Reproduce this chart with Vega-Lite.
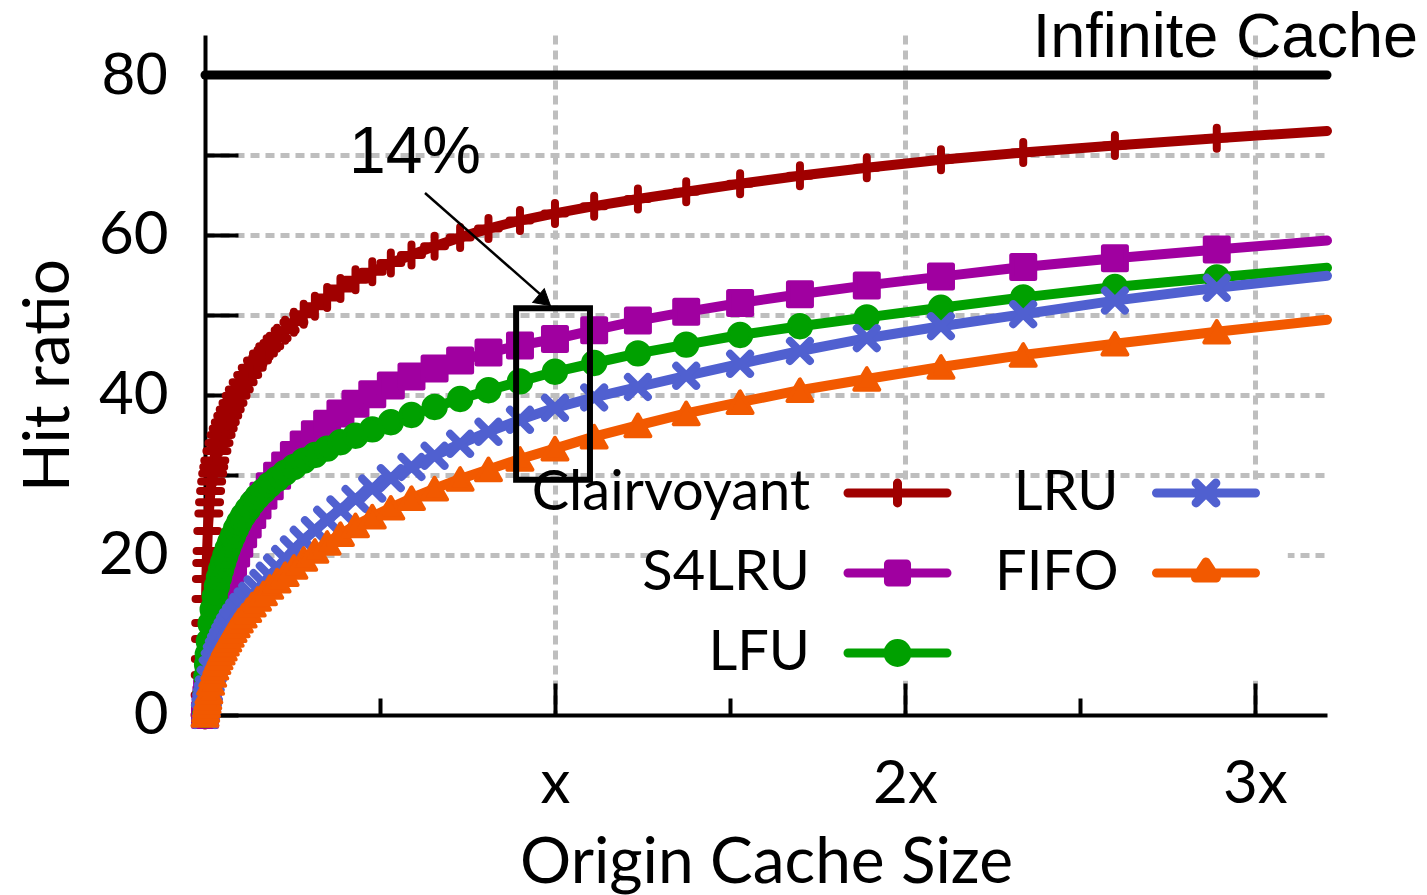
{
  "$schema": "https://vega.github.io/schema/vega-lite/v6.json",
  "width": 1122,
  "height": 680,
  "autosize": "none",
  "padding": {"left": 205, "top": 35, "right": 100, "bottom": 180},
  "background": "white",
  "config": {"view": {"stroke": null}},
  "datasets": {
    "curves": [
      {"policy": "Clairvoyant", "size": 0, "hit": 0},
      {"policy": "Clairvoyant", "size": 0.0003, "hit": 2.5},
      {"policy": "Clairvoyant", "size": 0.0007, "hit": 5.0},
      {"policy": "Clairvoyant", "size": 0.001, "hit": 7.0},
      {"policy": "Clairvoyant", "size": 0.0015, "hit": 9.5},
      {"policy": "Clairvoyant", "size": 0.002, "hit": 11.5},
      {"policy": "Clairvoyant", "size": 0.003, "hit": 14.5},
      {"policy": "Clairvoyant", "size": 0.004, "hit": 17.0},
      {"policy": "Clairvoyant", "size": 0.005, "hit": 19.0},
      {"policy": "Clairvoyant", "size": 0.006, "hit": 20.5},
      {"policy": "Clairvoyant", "size": 0.008, "hit": 23.0},
      {"policy": "Clairvoyant", "size": 0.011, "hit": 25.2},
      {"policy": "Clairvoyant", "size": 0.013, "hit": 26.6},
      {"policy": "Clairvoyant", "size": 0.016, "hit": 28.0},
      {"policy": "Clairvoyant", "size": 0.019, "hit": 29.2},
      {"policy": "Clairvoyant", "size": 0.022, "hit": 30.2},
      {"policy": "Clairvoyant", "size": 0.025, "hit": 31.0},
      {"policy": "Clairvoyant", "size": 0.028, "hit": 31.8},
      {"policy": "Clairvoyant", "size": 0.034, "hit": 33.0},
      {"policy": "Clairvoyant", "size": 0.04, "hit": 34.0},
      {"policy": "Clairvoyant", "size": 0.046, "hit": 35.0},
      {"policy": "Clairvoyant", "size": 0.052, "hit": 35.8},
      {"policy": "Clairvoyant", "size": 0.058, "hit": 36.6},
      {"policy": "Clairvoyant", "size": 0.065, "hit": 37.4},
      {"policy": "Clairvoyant", "size": 0.072, "hit": 38.2},
      {"policy": "Clairvoyant", "size": 0.08, "hit": 39.0},
      {"policy": "Clairvoyant", "size": 0.089, "hit": 39.9},
      {"policy": "Clairvoyant", "size": 0.098, "hit": 40.7},
      {"policy": "Clairvoyant", "size": 0.109, "hit": 41.6},
      {"policy": "Clairvoyant", "size": 0.122, "hit": 42.5},
      {"policy": "Clairvoyant", "size": 0.135, "hit": 43.4},
      {"policy": "Clairvoyant", "size": 0.15, "hit": 44.3},
      {"policy": "Clairvoyant", "size": 0.167, "hit": 45.2},
      {"policy": "Clairvoyant", "size": 0.185, "hit": 46.1},
      {"policy": "Clairvoyant", "size": 0.206, "hit": 47.1},
      {"policy": "Clairvoyant", "size": 0.229, "hit": 48.1},
      {"policy": "Clairvoyant", "size": 0.254, "hit": 49.1},
      {"policy": "Clairvoyant", "size": 0.282, "hit": 50.1},
      {"policy": "Clairvoyant", "size": 0.314, "hit": 51.1},
      {"policy": "Clairvoyant", "size": 0.349, "hit": 52.2},
      {"policy": "Clairvoyant", "size": 0.387, "hit": 53.3},
      {"policy": "Clairvoyant", "size": 0.43, "hit": 54.4},
      {"policy": "Clairvoyant", "size": 0.478, "hit": 55.4},
      {"policy": "Clairvoyant", "size": 0.531, "hit": 56.5},
      {"policy": "Clairvoyant", "size": 0.59, "hit": 57.5},
      {"policy": "Clairvoyant", "size": 0.656, "hit": 58.6},
      {"policy": "Clairvoyant", "size": 0.729, "hit": 59.7},
      {"policy": "Clairvoyant", "size": 0.81, "hit": 60.8},
      {"policy": "Clairvoyant", "size": 0.9, "hit": 61.8},
      {"policy": "Clairvoyant", "size": 1.0, "hit": 62.7},
      {"policy": "Clairvoyant", "size": 1.112, "hit": 63.6},
      {"policy": "Clairvoyant", "size": 1.237, "hit": 64.5},
      {"policy": "Clairvoyant", "size": 1.375, "hit": 65.4},
      {"policy": "Clairvoyant", "size": 1.529, "hit": 66.4},
      {"policy": "Clairvoyant", "size": 1.7, "hit": 67.4},
      {"policy": "Clairvoyant", "size": 1.891, "hit": 68.4},
      {"policy": "Clairvoyant", "size": 2.103, "hit": 69.4},
      {"policy": "Clairvoyant", "size": 2.338, "hit": 70.3},
      {"policy": "Clairvoyant", "size": 2.6, "hit": 71.2},
      {"policy": "Clairvoyant", "size": 2.891, "hit": 72.1},
      {"policy": "Clairvoyant", "size": 3.206, "hit": 73.0},

      {"policy": "S4LRU", "size": 0, "hit": 0},
      {"policy": "S4LRU", "size": 0.002, "hit": 1.0},
      {"policy": "S4LRU", "size": 0.004, "hit": 2.0},
      {"policy": "S4LRU", "size": 0.006, "hit": 2.8},
      {"policy": "S4LRU", "size": 0.008, "hit": 3.6},
      {"policy": "S4LRU", "size": 0.011, "hit": 4.7},
      {"policy": "S4LRU", "size": 0.016, "hit": 6.4},
      {"policy": "S4LRU", "size": 0.022, "hit": 8.1},
      {"policy": "S4LRU", "size": 0.028, "hit": 9.6},
      {"policy": "S4LRU", "size": 0.034, "hit": 11.0},
      {"policy": "S4LRU", "size": 0.04, "hit": 12.2},
      {"policy": "S4LRU", "size": 0.046, "hit": 13.4},
      {"policy": "S4LRU", "size": 0.052, "hit": 14.5},
      {"policy": "S4LRU", "size": 0.058, "hit": 15.6},
      {"policy": "S4LRU", "size": 0.065, "hit": 16.7},
      {"policy": "S4LRU", "size": 0.072, "hit": 17.8},
      {"policy": "S4LRU", "size": 0.08, "hit": 19.0},
      {"policy": "S4LRU", "size": 0.089, "hit": 20.2},
      {"policy": "S4LRU", "size": 0.098, "hit": 21.4},
      {"policy": "S4LRU", "size": 0.109, "hit": 22.6},
      {"policy": "S4LRU", "size": 0.122, "hit": 23.8},
      {"policy": "S4LRU", "size": 0.135, "hit": 25.0},
      {"policy": "S4LRU", "size": 0.15, "hit": 26.2},
      {"policy": "S4LRU", "size": 0.167, "hit": 27.4},
      {"policy": "S4LRU", "size": 0.185, "hit": 28.6},
      {"policy": "S4LRU", "size": 0.206, "hit": 29.9},
      {"policy": "S4LRU", "size": 0.229, "hit": 31.2},
      {"policy": "S4LRU", "size": 0.254, "hit": 32.5},
      {"policy": "S4LRU", "size": 0.282, "hit": 33.8},
      {"policy": "S4LRU", "size": 0.314, "hit": 35.1},
      {"policy": "S4LRU", "size": 0.349, "hit": 36.4},
      {"policy": "S4LRU", "size": 0.387, "hit": 37.7},
      {"policy": "S4LRU", "size": 0.43, "hit": 38.9},
      {"policy": "S4LRU", "size": 0.478, "hit": 40.1},
      {"policy": "S4LRU", "size": 0.531, "hit": 41.2},
      {"policy": "S4LRU", "size": 0.59, "hit": 42.3},
      {"policy": "S4LRU", "size": 0.656, "hit": 43.3},
      {"policy": "S4LRU", "size": 0.729, "hit": 44.3},
      {"policy": "S4LRU", "size": 0.81, "hit": 45.3},
      {"policy": "S4LRU", "size": 0.9, "hit": 46.2},
      {"policy": "S4LRU", "size": 1.0, "hit": 47.0},
      {"policy": "S4LRU", "size": 1.112, "hit": 48.1},
      {"policy": "S4LRU", "size": 1.237, "hit": 49.3},
      {"policy": "S4LRU", "size": 1.375, "hit": 50.4},
      {"policy": "S4LRU", "size": 1.529, "hit": 51.5},
      {"policy": "S4LRU", "size": 1.7, "hit": 52.6},
      {"policy": "S4LRU", "size": 1.891, "hit": 53.7},
      {"policy": "S4LRU", "size": 2.103, "hit": 54.8},
      {"policy": "S4LRU", "size": 2.338, "hit": 56.0},
      {"policy": "S4LRU", "size": 2.6, "hit": 57.1},
      {"policy": "S4LRU", "size": 2.891, "hit": 58.2},
      {"policy": "S4LRU", "size": 3.206, "hit": 59.3},

      {"policy": "LFU", "size": 0, "hit": 0},
      {"policy": "LFU", "size": 0.001, "hit": 1.5},
      {"policy": "LFU", "size": 0.002, "hit": 2.7},
      {"policy": "LFU", "size": 0.004, "hit": 4.8},
      {"policy": "LFU", "size": 0.006, "hit": 6.3},
      {"policy": "LFU", "size": 0.008, "hit": 7.6},
      {"policy": "LFU", "size": 0.011, "hit": 9.2},
      {"policy": "LFU", "size": 0.016, "hit": 11.4},
      {"policy": "LFU", "size": 0.022, "hit": 13.2},
      {"policy": "LFU", "size": 0.028, "hit": 14.8},
      {"policy": "LFU", "size": 0.034, "hit": 16.1},
      {"policy": "LFU", "size": 0.04, "hit": 17.2},
      {"policy": "LFU", "size": 0.046, "hit": 18.2},
      {"policy": "LFU", "size": 0.052, "hit": 19.1},
      {"policy": "LFU", "size": 0.058, "hit": 19.9},
      {"policy": "LFU", "size": 0.065, "hit": 20.8},
      {"policy": "LFU", "size": 0.072, "hit": 21.6},
      {"policy": "LFU", "size": 0.08, "hit": 22.4},
      {"policy": "LFU", "size": 0.089, "hit": 23.3},
      {"policy": "LFU", "size": 0.098, "hit": 24.1},
      {"policy": "LFU", "size": 0.109, "hit": 24.9},
      {"policy": "LFU", "size": 0.122, "hit": 25.7},
      {"policy": "LFU", "size": 0.135, "hit": 26.5},
      {"policy": "LFU", "size": 0.15, "hit": 27.3},
      {"policy": "LFU", "size": 0.167, "hit": 28.0},
      {"policy": "LFU", "size": 0.185, "hit": 28.8},
      {"policy": "LFU", "size": 0.206, "hit": 29.5},
      {"policy": "LFU", "size": 0.229, "hit": 30.3},
      {"policy": "LFU", "size": 0.254, "hit": 31.0},
      {"policy": "LFU", "size": 0.282, "hit": 31.8},
      {"policy": "LFU", "size": 0.314, "hit": 32.5},
      {"policy": "LFU", "size": 0.349, "hit": 33.3},
      {"policy": "LFU", "size": 0.387, "hit": 34.1},
      {"policy": "LFU", "size": 0.43, "hit": 34.9},
      {"policy": "LFU", "size": 0.478, "hit": 35.7},
      {"policy": "LFU", "size": 0.531, "hit": 36.6},
      {"policy": "LFU", "size": 0.59, "hit": 37.5},
      {"policy": "LFU", "size": 0.656, "hit": 38.5},
      {"policy": "LFU", "size": 0.729, "hit": 39.5},
      {"policy": "LFU", "size": 0.81, "hit": 40.6},
      {"policy": "LFU", "size": 0.9, "hit": 41.7},
      {"policy": "LFU", "size": 1.0, "hit": 42.9},
      {"policy": "LFU", "size": 1.112, "hit": 44.0},
      {"policy": "LFU", "size": 1.237, "hit": 45.2},
      {"policy": "LFU", "size": 1.375, "hit": 46.3},
      {"policy": "LFU", "size": 1.529, "hit": 47.5},
      {"policy": "LFU", "size": 1.7, "hit": 48.6},
      {"policy": "LFU", "size": 1.891, "hit": 49.7},
      {"policy": "LFU", "size": 2.103, "hit": 50.9},
      {"policy": "LFU", "size": 2.338, "hit": 52.2},
      {"policy": "LFU", "size": 2.6, "hit": 53.5},
      {"policy": "LFU", "size": 2.891, "hit": 54.7},
      {"policy": "LFU", "size": 3.206, "hit": 55.9},

      {"policy": "LRU", "size": 0, "hit": 0},
      {"policy": "LRU", "size": 0.002, "hit": 0.7},
      {"policy": "LRU", "size": 0.004, "hit": 1.3},
      {"policy": "LRU", "size": 0.006, "hit": 1.9},
      {"policy": "LRU", "size": 0.008, "hit": 2.5},
      {"policy": "LRU", "size": 0.011, "hit": 3.2},
      {"policy": "LRU", "size": 0.016, "hit": 4.4},
      {"policy": "LRU", "size": 0.022, "hit": 5.6},
      {"policy": "LRU", "size": 0.028, "hit": 6.5},
      {"policy": "LRU", "size": 0.034, "hit": 7.3},
      {"policy": "LRU", "size": 0.04, "hit": 8.0},
      {"policy": "LRU", "size": 0.046, "hit": 8.6},
      {"policy": "LRU", "size": 0.052, "hit": 9.2},
      {"policy": "LRU", "size": 0.058, "hit": 9.8},
      {"policy": "LRU", "size": 0.065, "hit": 10.4},
      {"policy": "LRU", "size": 0.072, "hit": 11.0},
      {"policy": "LRU", "size": 0.08, "hit": 11.6},
      {"policy": "LRU", "size": 0.089, "hit": 12.2},
      {"policy": "LRU", "size": 0.098, "hit": 12.8},
      {"policy": "LRU", "size": 0.109, "hit": 13.5},
      {"policy": "LRU", "size": 0.122, "hit": 14.2},
      {"policy": "LRU", "size": 0.135, "hit": 14.9},
      {"policy": "LRU", "size": 0.15, "hit": 15.7},
      {"policy": "LRU", "size": 0.167, "hit": 16.5},
      {"policy": "LRU", "size": 0.185, "hit": 17.4},
      {"policy": "LRU", "size": 0.206, "hit": 18.4},
      {"policy": "LRU", "size": 0.229, "hit": 19.5},
      {"policy": "LRU", "size": 0.254, "hit": 20.7},
      {"policy": "LRU", "size": 0.282, "hit": 21.9},
      {"policy": "LRU", "size": 0.314, "hit": 23.1},
      {"policy": "LRU", "size": 0.349, "hit": 24.4},
      {"policy": "LRU", "size": 0.387, "hit": 25.7},
      {"policy": "LRU", "size": 0.43, "hit": 27.0},
      {"policy": "LRU", "size": 0.478, "hit": 28.3},
      {"policy": "LRU", "size": 0.531, "hit": 29.6},
      {"policy": "LRU", "size": 0.59, "hit": 31.0},
      {"policy": "LRU", "size": 0.656, "hit": 32.4},
      {"policy": "LRU", "size": 0.729, "hit": 33.9},
      {"policy": "LRU", "size": 0.81, "hit": 35.4},
      {"policy": "LRU", "size": 0.9, "hit": 36.9},
      {"policy": "LRU", "size": 1.0, "hit": 38.4},
      {"policy": "LRU", "size": 1.112, "hit": 39.7},
      {"policy": "LRU", "size": 1.237, "hit": 41.0},
      {"policy": "LRU", "size": 1.375, "hit": 42.4},
      {"policy": "LRU", "size": 1.529, "hit": 43.9},
      {"policy": "LRU", "size": 1.7, "hit": 45.5},
      {"policy": "LRU", "size": 1.891, "hit": 47.1},
      {"policy": "LRU", "size": 2.103, "hit": 48.6},
      {"policy": "LRU", "size": 2.338, "hit": 50.1},
      {"policy": "LRU", "size": 2.6, "hit": 51.8},
      {"policy": "LRU", "size": 2.891, "hit": 53.4},
      {"policy": "LRU", "size": 3.206, "hit": 54.9},

      {"policy": "FIFO", "size": 0, "hit": 0},
      {"policy": "FIFO", "size": 0.002, "hit": 0.6},
      {"policy": "FIFO", "size": 0.004, "hit": 1.2},
      {"policy": "FIFO", "size": 0.006, "hit": 1.7},
      {"policy": "FIFO", "size": 0.008, "hit": 2.2},
      {"policy": "FIFO", "size": 0.011, "hit": 2.9},
      {"policy": "FIFO", "size": 0.016, "hit": 4.0},
      {"policy": "FIFO", "size": 0.022, "hit": 5.0},
      {"policy": "FIFO", "size": 0.028, "hit": 5.9},
      {"policy": "FIFO", "size": 0.034, "hit": 6.6},
      {"policy": "FIFO", "size": 0.04, "hit": 7.2},
      {"policy": "FIFO", "size": 0.046, "hit": 7.8},
      {"policy": "FIFO", "size": 0.052, "hit": 8.3},
      {"policy": "FIFO", "size": 0.058, "hit": 8.9},
      {"policy": "FIFO", "size": 0.065, "hit": 9.4},
      {"policy": "FIFO", "size": 0.072, "hit": 10.0},
      {"policy": "FIFO", "size": 0.08, "hit": 10.6},
      {"policy": "FIFO", "size": 0.089, "hit": 11.2},
      {"policy": "FIFO", "size": 0.098, "hit": 11.8},
      {"policy": "FIFO", "size": 0.109, "hit": 12.4},
      {"policy": "FIFO", "size": 0.122, "hit": 13.1},
      {"policy": "FIFO", "size": 0.135, "hit": 13.8},
      {"policy": "FIFO", "size": 0.15, "hit": 14.5},
      {"policy": "FIFO", "size": 0.167, "hit": 15.2},
      {"policy": "FIFO", "size": 0.185, "hit": 16.0},
      {"policy": "FIFO", "size": 0.206, "hit": 16.8},
      {"policy": "FIFO", "size": 0.229, "hit": 17.6},
      {"policy": "FIFO", "size": 0.254, "hit": 18.5},
      {"policy": "FIFO", "size": 0.282, "hit": 19.5},
      {"policy": "FIFO", "size": 0.314, "hit": 20.5},
      {"policy": "FIFO", "size": 0.349, "hit": 21.5},
      {"policy": "FIFO", "size": 0.387, "hit": 22.6},
      {"policy": "FIFO", "size": 0.43, "hit": 23.7},
      {"policy": "FIFO", "size": 0.478, "hit": 24.8},
      {"policy": "FIFO", "size": 0.531, "hit": 25.9},
      {"policy": "FIFO", "size": 0.59, "hit": 27.1},
      {"policy": "FIFO", "size": 0.656, "hit": 28.3},
      {"policy": "FIFO", "size": 0.729, "hit": 29.5},
      {"policy": "FIFO", "size": 0.81, "hit": 30.7},
      {"policy": "FIFO", "size": 0.9, "hit": 32.0},
      {"policy": "FIFO", "size": 1.0, "hit": 33.3},
      {"policy": "FIFO", "size": 1.112, "hit": 34.8},
      {"policy": "FIFO", "size": 1.237, "hit": 36.2},
      {"policy": "FIFO", "size": 1.375, "hit": 37.7},
      {"policy": "FIFO", "size": 1.529, "hit": 39.1},
      {"policy": "FIFO", "size": 1.7, "hit": 40.6},
      {"policy": "FIFO", "size": 1.891, "hit": 42.0},
      {"policy": "FIFO", "size": 2.103, "hit": 43.5},
      {"policy": "FIFO", "size": 2.338, "hit": 45.0},
      {"policy": "FIFO", "size": 2.6, "hit": 46.4},
      {"policy": "FIFO", "size": 2.891, "hit": 47.9},
      {"policy": "FIFO", "size": 3.206, "hit": 49.4}
    ]
  },
  "layer": [
    {
      "description": "white backdrop behind the key; also carries the main axes",
      "data": {"values": [{"size": 1.27, "size2": 3.094, "hit": 29, "hit2": 4.3}]},
      "mark": {"type": "rect", "fill": "white"},
      "encoding": {
        "x": {
          "field": "size", "type": "quantitative",
          "scale": {"domain": [0, 3.206], "nice": false, "zero": false},
          "axis": {
            "orient": "bottom", "values": [1, 2, 3],
            "domainColor": "black", "domainWidth": 4,
            "tickColor": "black", "tickWidth": 4, "tickSize": -32,
            "labelExpr": "datum.value === 1 ? 'x' : datum.value + 'x'",
            "labelFont": "Lato", "labelFontSize": 60, "labelColor": "black",
            "labelBaseline": "alphabetic", "labelPadding": 119, "labelFlush": false, "labelOverlap": false,
            "grid": true, "gridColor": "#bebebe", "gridWidth": 5, "gridDash": [9, 6],
            "title": "Origin Cache Size", "titleFont": "Lato", "titleFontSize": 64, "titleFontWeight": "normal",
            "titleColor": "black", "titleBaseline": "alphabetic", "titleY": 167
          }
        },
        "x2": {"field": "size2"},
        "y": {
          "field": "hit", "type": "quantitative",
          "scale": {"domain": [0, 85], "nice": false},
          "axis": {
            "orient": "left", "values": [0, 10, 20, 30, 40, 50, 60, 70, 80],
            "domainColor": "black", "domainWidth": 4,
            "tickColor": "black", "tickWidth": 4, "tickSize": -33,
            "labelExpr": "datum.value % 20 === 0 ? datum.label : ''",
            "labelFont": {"condition": {"test": "datum.value === 80", "value": "Liberation Sans"}, "value": "Lato"},
            "labelFontSize": 60, "labelColor": "black", "labelPadding": 70,
            "labelBaseline": "middle", "labelFlush": false, "labelOverlap": false,
            "grid": true, "gridColor": "#bebebe", "gridWidth": 5, "gridDash": [9, 6],
            "gridOpacity": {"condition": {"test": "datum.value >= 20 && datum.value <= 70", "value": 1}, "value": 0},
            "title": "Hit ratio", "titleFont": "Lato", "titleFontSize": 64, "titleFontWeight": "normal",
            "titleColor": "black", "titleBaseline": "alphabetic", "titleAngle": -90, "titleAlign": "center",
            "titleX": -137, "titleY": 340
          }
        },
        "y2": {"field": "hit2"}
      }
    },
    {
      "data": {"name": "curves"},
      "transform": [{"filter": "datum.policy === 'Clairvoyant'"}],
      "mark": {"type": "line", "strokeWidth": 10, "strokeCap": "round", "strokeJoin": "round"},
      "encoding": {
        "x": {"field": "size", "type": "quantitative", "scale": {"domain": [0, 3.206], "nice": false, "zero": false}, "axis": null},
        "y": {"field": "hit", "type": "quantitative", "scale": {"domain": [0, 85], "nice": false}, "axis": null},
        "color": {
          "field": "policy", "type": "nominal",
          "scale": {
            "domain": ["Clairvoyant", "S4LRU", "LFU", "LRU", "FIFO"],
            "range": ["#a00000", "#a000a0", "#00a000", "#5060d0", "#f25900"]
          },
          "legend": {
            "title": null, "orient": "none", "legendX": 664.5, "legendY": 430,
            "direction": "vertical", "columns": 2, "padding": 0,
            "rowPadding": 24, "columnPadding": -146.5,
            "symbolSize": 484, "symbolStrokeWidth": 9,
            "labelFont": "Lato", "labelFontSize": 56, "labelColor": "black",
            "labelAlign": "right", "labelBaseline": "middle", "labelOffset": -115.5, "labelLimit": 0,
            "encode": {
              "symbols": {
                "update": {
                  "shape": {"signal": "datum.value === 'Clairvoyant' ? 'M-36,0M-4.5,0H4.5M0,-0.9V0.9' : datum.value === 'S4LRU' ? 'M-36,0M-4.5,0H4.5M-0.82,-0.82H0.82V0.82H-0.82Z' : datum.value === 'LFU' ? 'M-36,0M-4.5,0H4.5M-0.86,0A0.86,0.86,0,1,1,0.86,0A0.86,0.86,0,1,1,-0.86,0Z' : datum.value === 'LRU' ? 'M-36,0M-4.5,0H4.5M-0.9,-0.9L0.9,0.9M0.9,-0.9L-0.9,0.9' : 'M-36,0M-4.5,0H4.5M0,-1L0.95,0.45H-0.95Z'"},
                  "fill": {"scale": "color", "field": "value"},
                  "stroke": {"scale": "color", "field": "value"},
                  "strokeCap": {"value": "round"},
                  "strokeJoin": {"value": "round"},
                  "opacity": {"value": 1}
                }
              }
            }
          }
        }
      }
    },
    {
      "data": {"name": "curves"},
      "transform": [{"filter": "datum.policy === 'Clairvoyant' && datum.size < 3.1"}],
      "mark": {"type": "point", "shape": "M0,-1V1M-1,0H1", "size": 441, "filled": false, "stroke": "#a00000", "strokeWidth": 8, "strokeCap": "round", "opacity": 1},
      "encoding": {
        "x": {"field": "size", "type": "quantitative", "scale": {"domain": [0, 3.206], "nice": false, "zero": false}, "axis": null},
        "y": {"field": "hit", "type": "quantitative", "scale": {"domain": [0, 85], "nice": false}, "axis": null}
      }
    },
    {
      "data": {"name": "curves"},
      "transform": [{"filter": "datum.policy === 'S4LRU'"}],
      "mark": {"type": "line", "color": "#a000a0", "strokeWidth": 10, "strokeCap": "round", "strokeJoin": "round"},
      "encoding": {
        "x": {"field": "size", "type": "quantitative", "scale": {"domain": [0, 3.206], "nice": false, "zero": false}, "axis": null},
        "y": {"field": "hit", "type": "quantitative", "scale": {"domain": [0, 85], "nice": false}, "axis": null}
      }
    },
    {
      "data": {"name": "curves"},
      "transform": [{"filter": "datum.policy === 'S4LRU' && datum.size < 3.1"}],
      "mark": {"type": "point", "shape": "square", "size": 529, "filled": true, "fill": "#a000a0", "stroke": "#a000a0", "strokeWidth": 5, "strokeJoin": "round", "opacity": 1},
      "encoding": {
        "x": {"field": "size", "type": "quantitative", "scale": {"domain": [0, 3.206], "nice": false, "zero": false}, "axis": null},
        "y": {"field": "hit", "type": "quantitative", "scale": {"domain": [0, 85], "nice": false}, "axis": null}
      }
    },
    {
      "data": {"name": "curves"},
      "transform": [{"filter": "datum.policy === 'LFU'"}],
      "mark": {"type": "line", "color": "#00a000", "strokeWidth": 10, "strokeCap": "round", "strokeJoin": "round"},
      "encoding": {
        "x": {"field": "size", "type": "quantitative", "scale": {"domain": [0, 3.206], "nice": false, "zero": false}, "axis": null},
        "y": {"field": "hit", "type": "quantitative", "scale": {"domain": [0, 85], "nice": false}, "axis": null}
      }
    },
    {
      "data": {"name": "curves"},
      "transform": [{"filter": "datum.policy === 'LFU' && datum.size < 3.1"}],
      "mark": {"type": "point", "shape": "circle", "size": 500, "filled": true, "fill": "#00a000", "stroke": "#00a000", "strokeWidth": 4, "opacity": 1},
      "encoding": {
        "x": {"field": "size", "type": "quantitative", "scale": {"domain": [0, 3.206], "nice": false, "zero": false}, "axis": null},
        "y": {"field": "hit", "type": "quantitative", "scale": {"domain": [0, 85], "nice": false}, "axis": null}
      }
    },
    {
      "data": {"name": "curves"},
      "transform": [{"filter": "datum.policy === 'LRU'"}],
      "mark": {"type": "line", "color": "#5060d0", "strokeWidth": 10, "strokeCap": "round", "strokeJoin": "round"},
      "encoding": {
        "x": {"field": "size", "type": "quantitative", "scale": {"domain": [0, 3.206], "nice": false, "zero": false}, "axis": null},
        "y": {"field": "hit", "type": "quantitative", "scale": {"domain": [0, 85], "nice": false}, "axis": null}
      }
    },
    {
      "data": {"name": "curves"},
      "transform": [{"filter": "datum.policy === 'LRU' && datum.size < 3.1"}],
      "mark": {"type": "point", "shape": "M-1,-1L1,1M1,-1L-1,1", "size": 400, "filled": false, "stroke": "#5060d0", "strokeWidth": 8, "strokeCap": "round", "opacity": 1},
      "encoding": {
        "x": {"field": "size", "type": "quantitative", "scale": {"domain": [0, 3.206], "nice": false, "zero": false}, "axis": null},
        "y": {"field": "hit", "type": "quantitative", "scale": {"domain": [0, 85], "nice": false}, "axis": null}
      }
    },
    {
      "data": {"name": "curves"},
      "transform": [{"filter": "datum.policy === 'FIFO'"}],
      "mark": {"type": "line", "color": "#f25900", "strokeWidth": 10, "strokeCap": "round", "strokeJoin": "round"},
      "encoding": {
        "x": {"field": "size", "type": "quantitative", "scale": {"domain": [0, 3.206], "nice": false, "zero": false}, "axis": null},
        "y": {"field": "hit", "type": "quantitative", "scale": {"domain": [0, 85], "nice": false}, "axis": null}
      }
    },
    {
      "data": {"name": "curves"},
      "transform": [{"filter": "datum.policy === 'FIFO' && datum.size < 3.1"}],
      "mark": {"type": "point", "shape": "triangle-up", "size": 625, "filled": true, "fill": "#f25900", "stroke": "#f25900", "strokeWidth": 4, "strokeJoin": "round", "opacity": 1},
      "encoding": {
        "x": {"field": "size", "type": "quantitative", "scale": {"domain": [0, 3.206], "nice": false, "zero": false}, "axis": null},
        "y": {"field": "hit", "type": "quantitative", "scale": {"domain": [0, 85], "nice": false}, "axis": null}
      }
    },
    {
      "description": "infinite cache reference line",
      "data": {"values": [{"hit": 80}]},
      "mark": {"type": "rule", "color": "black", "strokeWidth": 9, "strokeCap": "round"},
      "encoding": {
        "y": {"field": "hit", "type": "quantitative", "scale": {"domain": [0, 85], "nice": false}, "axis": null}
      }
    },
    {
      "data": {"values": [{"size": 3.466, "hit": 82.25, "text": "Infinite Cache"}]},
      "mark": {"type": "text", "align": "right", "baseline": "alphabetic", "font": "Liberation Sans", "fontSize": 63, "color": "black"},
      "encoding": {
        "x": {"field": "size", "type": "quantitative", "scale": {"domain": [0, 3.206], "nice": false, "zero": false}, "axis": null},
        "y": {"field": "hit", "type": "quantitative", "scale": {"domain": [0, 85], "nice": false}, "axis": null},
        "text": {"field": "text"}
      }
    },
    {
      "description": "highlight box around the x point; carries the minor x ticks",
      "data": {"values": [{"size": 0.889, "size2": 1.1, "hit": 50.84, "hit2": 29.41}]},
      "mark": {"type": "rect", "fill": null, "fillOpacity": 0, "stroke": "black", "strokeWidth": 6},
      "encoding": {
        "x": {
          "field": "size", "type": "quantitative",
          "scale": {"domain": [0, 3.206], "nice": false, "zero": false},
          "axis": {
            "orient": "bottom", "values": [0.5, 1.5, 2.5],
            "domain": false, "labels": false, "grid": false,
            "tickColor": "black", "tickWidth": 4, "tickSize": -17, "title": null
          }
        },
        "x2": {"field": "size2"},
        "y": {"field": "hit", "type": "quantitative", "scale": {"domain": [0, 85], "nice": false}, "axis": null},
        "y2": {"field": "hit2"}
      }
    },
    {
      "data": {"values": [{"size": 0.6286, "hit": 65.25, "size2": 0.968, "hit2": 52.2}]},
      "mark": {"type": "rule", "color": "black", "strokeWidth": 2.5},
      "encoding": {
        "x": {"field": "size", "type": "quantitative", "scale": {"domain": [0, 3.206], "nice": false, "zero": false}, "axis": null},
        "y": {"field": "hit", "type": "quantitative", "scale": {"domain": [0, 85], "nice": false}, "axis": null},
        "x2": {"field": "size2"},
        "y2": {"field": "hit2"}
      }
    },
    {
      "data": {"values": [{"size": 0.97, "hit": 51.8}]},
      "mark": {"type": "point", "shape": "triangle-up", "size": 324, "angle": 130, "filled": true, "fill": "black", "stroke": "black", "strokeWidth": 1, "opacity": 1},
      "encoding": {
        "x": {"field": "size", "type": "quantitative", "scale": {"domain": [0, 3.206], "nice": false, "zero": false}, "axis": null},
        "y": {"field": "hit", "type": "quantitative", "scale": {"domain": [0, 85], "nice": false}, "axis": null}
      }
    },
    {
      "data": {"values": [{"size": 0.6, "hit": 67.75, "text": "14%"}]},
      "mark": {"type": "text", "align": "center", "baseline": "alphabetic", "font": "Liberation Sans", "fontSize": 66, "color": "black"},
      "encoding": {
        "x": {"field": "size", "type": "quantitative", "scale": {"domain": [0, 3.206], "nice": false, "zero": false}, "axis": null},
        "y": {"field": "hit", "type": "quantitative", "scale": {"domain": [0, 85], "nice": false}, "axis": null},
        "text": {"field": "text"}
      }
    }
  ],
  "resolve": {"axis": {"x": "independent", "y": "independent"}}
}
